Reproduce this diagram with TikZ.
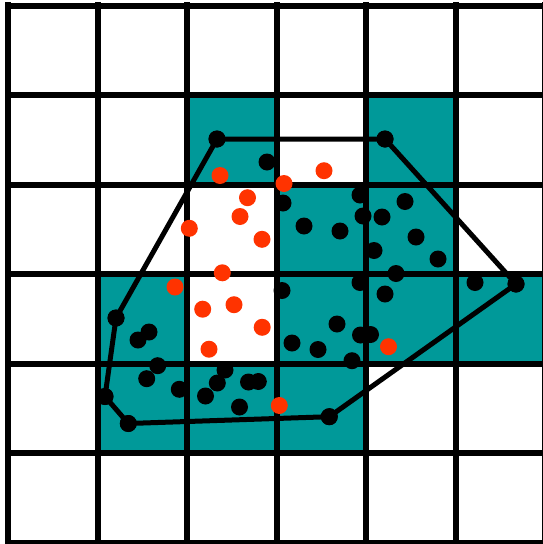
\documentclass[tikz,border=0pt]{standalone}
\definecolor{tealc}{RGB}{0,153,153}
\definecolor{redc}{RGB}{255,51,0}
\tikzset{
  bdot/.style={circle,fill=black,inner sep=0pt,minimum size=17pt},
  rdot/.style={circle,fill=redc,inner sep=0pt,minimum size=17pt},
  gridline/.style={line width=6pt,black},
  hull/.style={line width=5pt,black,line join=round}
}
\begin{document}
\begin{tikzpicture}[x=1pt,y=-1pt]
\useasboundingbox (0,0) rectangle (543,544);
\clip (0,0) rectangle (543,544);
\fill[white] (0,0) rectangle (543,544);
% teal cells: (col,row) with origin (8,5.7), cell 89.5
\foreach \c/\r in {2/1,4/1,3/2,4/2,1/3,3/3,4/3,5/3,1/4,2/4,3/4}{
  \fill[tealc] ({8+89.5*\c},{5.7+89.5*\r}) rectangle ({8+89.5*(\c+1)},{5.7+89.5*(\r+1)});
}
% grid
\foreach \k in {0,...,6}{
  \draw[gridline] ({8+89.5*\k},2) -- ({8+89.5*\k},547);
  \draw[gridline] (5,{5.7+89.5*\k}) -- (548,{5.7+89.5*\k});
}
% hull vertices
\node[bdot] (h1) at (217,139) {};
\node[bdot] (h2) at (385,139) {};
\node[bdot] (h3) at (516,284) {};
\node[bdot] (h4) at (329.3,416.7) {};
\node[bdot] (h5) at (128.3,423.5) {};
\node[bdot] (h6) at (105,396.5) {};
\node[bdot] (h7) at (116,318) {};
\draw[hull] (h1.center) -- (h2.center) -- (h3.center) -- (h4.center) -- (h5.center) -- (h6.center) -- (h7.center) -- cycle;
% redraw vertices on top
\foreach \n in {h1,h2,h3,h4,h5,h6,h7}{
  \fill (\n.center) circle (8.5pt);
}
% black dots
\foreach \x/\y [count=\i] in {267/162,283/203,360/195,405/201.5,363/216,382/217,304/226,340/231,416/237,374/250.5,438/259,396/273.5,360/282.5,282/290.5,385/294,475/282.5,337/324,360.5/335,370.5/334.5,292/343,318/349.5,352/360.7,149/332,138/340,157.7/365.7,146.7/378.7,179.3/389.3,205.5/396,225/370,217.3/383,248.5/382,258.3/381.5,239.5/407}{
  \node[bdot] (b\i) at (\x,\y) {};
}
% red dots
\foreach \x/\y [count=\i] in {220/175.5,284/183.5,324/170.7,247.5/197.7,240/216.5,189.3/228.3,262/239.3,222.3/272.8,175/287,202.7/309.2,234/304.7,262.2/327.3,209/349.2,279.3/405.5,388.5/346.7}{
  \node[rdot] (r\i) at (\x,\y) {};
}
\end{tikzpicture}
\end{document}
